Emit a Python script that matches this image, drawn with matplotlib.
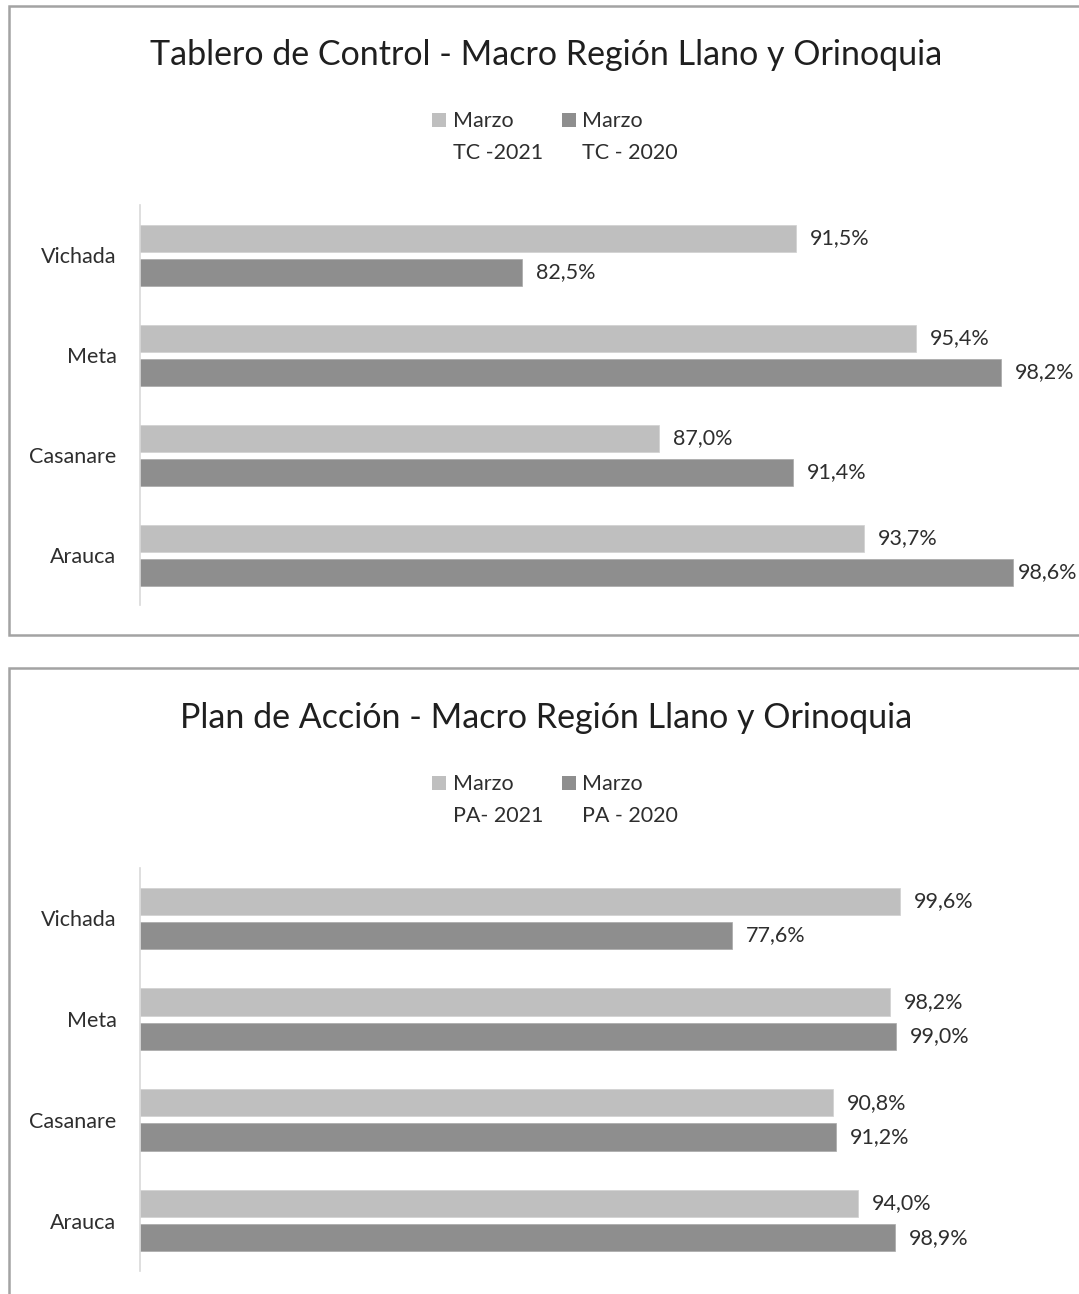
import matplotlib.pyplot as plt
from matplotlib.patches import Rectangle
import numpy as np

plt.rcParams['font.family'] = ['Lato', 'DejaVu Sans']

# Data
regions = ['Arauca', 'Casanare', 'Meta', 'Vichada']
tc_2021 = [93.7, 87.0, 95.4, 91.5]
tc_2020 = [98.6, 91.4, 98.2, 82.5]
pa_2021 = [94.0, 90.8, 98.2, 99.6]
pa_2020 = [98.9, 91.2, 99.0, 77.6]

title_tc = 'Tablero de Control - Macro Región Llano y Orinoquia'
title_pa = 'Plan de Acción - Macro Región Llano y Orinoquia'
legend_tc = ['Marzo\nTC -2021', 'Marzo\nTC - 2020']
legend_pa = ['Marzo\nPA- 2021', 'Marzo\nPA - 2020']

color_light = '#bfbfbf'
color_dark = '#8e8e8e'
text_color = '#2e2e2e'

W, H = 1079, 1294
fig = plt.figure(figsize=(W / 100, H / 100), dpi=100)


def fx(px):
    return px / W


def fy(py):
    return 1 - py / H


def fmt(v):
    return f'{v:.1f}%'.replace('.', ',')


def panel(box_top, box_bottom, ax_top, ax_bottom, title, title_y, labels,
          leg_y, s21, s20, xlim):
    # chart frame (behind the axes)
    fig.patches.append(Rectangle((fx(9), fy(box_bottom)), fx(1200), fy(box_top) - fy(box_bottom),
                                 transform=fig.transFigure, facecolor='white',
                                 edgecolor='#a3a3a3', linewidth=1.8, zorder=-5))
    ax = fig.add_axes([fx(140), fy(ax_bottom), fx(1056 - 140), fy(ax_top) - fy(ax_bottom)])
    ax.set_facecolor('none')
    y = np.arange(len(regions))
    h = 0.27
    b1 = ax.barh(y + 0.17, s21, h, color=color_light, edgecolor='#d0d0d0', linewidth=0.5)
    b2 = ax.barh(y - 0.17, s20, h, color=color_dark, edgecolor='#a8a8a8', linewidth=0.5)
    for bars, vals in ((b1, s21), (b2, s20)):
        for rect, v in zip(bars, vals):
            # Excel pulls labels in when they would leave the chart
            off = 3 if (v - xlim[0]) / (xlim[1] - xlim[0]) > 0.95 else 10
            ax.annotate(fmt(v), xy=(v, rect.get_y() + rect.get_height() / 2),
                        xytext=(off, 0), textcoords='offset points',
                        ha='left', va='center', fontsize=15.5, color=text_color,
                        annotation_clip=False)
    ax.set_xlim(*xlim)
    ax.set_ylim(-0.5, len(regions) - 0.5)
    ax.set_yticks(y)
    ax.set_yticklabels(regions, fontsize=15.5, color=text_color)
    ax.tick_params(axis='y', length=0, pad=17)
    ax.set_xticks([])
    for s in ['top', 'right', 'bottom']:
        ax.spines[s].set_visible(False)
    ax.spines['left'].set_color('#d9d9d9')
    ax.spines['left'].set_linewidth(1.2)

    fig.text(0.506, fy(title_y), title, ha='center', va='center',
             fontsize=24.5, color='#1f1f1f')

    # legend
    for sq_x, txt_x, lab, col in ((432, 453, labels[0], color_light),
                                  (562, 582, labels[1], color_dark)):
        fig.patches.append(Rectangle((fx(sq_x), fy(leg_y + 7)), fx(14), fy(leg_y - 7) - fy(leg_y + 7),
                                     transform=fig.transFigure, facecolor=col,
                                     edgecolor='none', zorder=2))
        fig.text(fx(txt_x), fy(leg_y - 9), lab, ha='left', va='top',
                 fontsize=15.5, color=text_color, linespacing=1.75)
    return ax


panel(6, 635, 205, 605, title_tc, 55, legend_tc, 120, tc_2021, tc_2020, (70, 100))
panel(668, 1400, 868, 1271, title_pa, 718, legend_pa, 783, pa_2021, pa_2020, (0, 120))

fig.savefig('out.png', dpi=100)
